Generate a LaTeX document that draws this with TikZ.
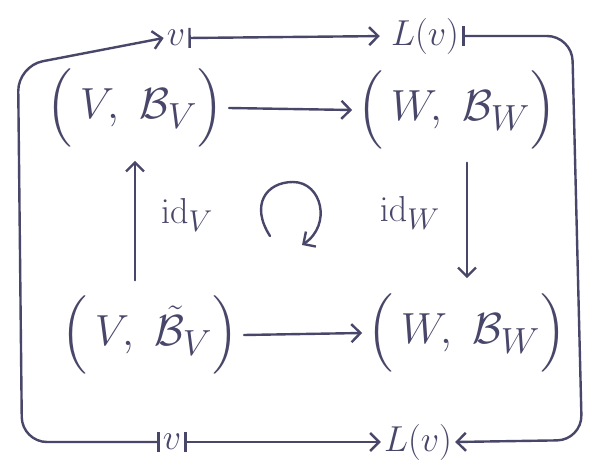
\documentclass[tikz,border=0pt]{standalone}
\usepackage{amsmath}
\usetikzlibrary{arrows.meta}
\definecolor{ink}{RGB}{72,70,105}
\begin{document}
\begin{tikzpicture}[x=1pt,y=-1pt, color=ink, line width=2.4pt, line cap=round,
  lab/.style={inner sep=1pt, font=\Huge, scale=1.45, transform shape},
  bigl/.style={inner sep=2pt, font=\Huge, scale=1.75, transform shape},
  idl/.style={inner sep=1pt, font=\Huge, scale=1.45, transform shape},
  arr/.style={-{Straight Barb[length=9pt,width=18pt]}},
  mto/.style={{Bar[width=20pt]}-{Straight Barb[length=9pt,width=18pt]}},
]
\useasboundingbox (0,0) rectangle (603,468);
\node[lab] (vt) at (176,38) {$v$};
\node[lab] (Lt) at (425,36) {$L(v)$};
\node[lab] (vb) at (172,442) {$v$};
\node[lab] (Lb) at (418,442) {$L(v)$};
\node[bigl] (A) at (135,108) {$\Bigl(\,V,\ \mathcal{B}_V\Bigr)$};
\node[bigl] (B) at (457,110) {$\Bigl(\,W,\ \mathcal{B}_W\Bigr)$};
\node[bigl] (C) at (150,335) {$\Bigl(\,V,\ \tilde{\mathcal{B}}_V\Bigr)$};
\node[bigl] (D) at (467,333) {$\Bigl(\,W,\ \mathcal{B}_W\Bigr)$};
\node[idl] (iv) at (187,215) {$\mathrm{id}_V$};
\node[idl] (iw) at (410,213) {$\mathrm{id}_W$};
\draw[arr] (A.east) -- (B.west);
\draw[arr] (C.east) -- (D.west);
\draw[arr, shorten <=10pt, shorten >=8pt] (C.north -| A.south) -- (A.south);
\draw[arr, shorten <=8pt, shorten >=10pt] (B.south -| D.north) -- (D.north);
\draw[mto, shorten >=8pt] (vt.east) -- (Lt.west);
\draw[mto] (vb.east) -- (Lb.west);
\draw[mto, rounded corners=25pt] (vb.west) -- (22,442) -- (18,66) -- (vt.west);
\draw[mto, rounded corners=25pt] (Lt.east) -- (572,36) -- (582,440) -- (Lb.east);
\draw[arr] (270,236) .. controls (250,205) and (266,182) .. (293,182)
  .. controls (322,182) and (332,225) .. (302,245);
\end{tikzpicture}
\end{document}
